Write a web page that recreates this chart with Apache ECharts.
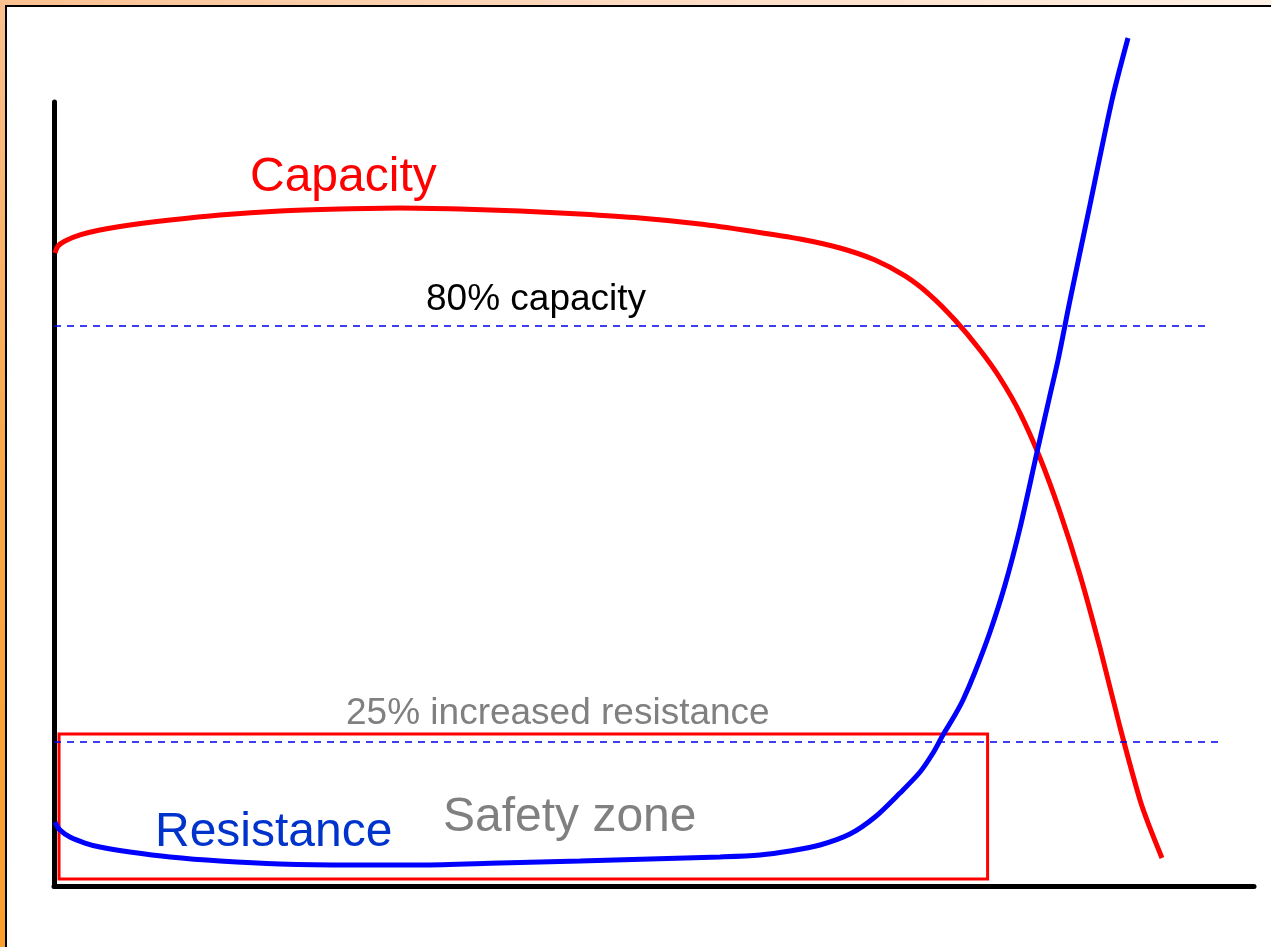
<!DOCTYPE html>
<html>
<head>
<meta charset="utf-8">
<script src="https://cdn.jsdelivr.net/npm/echarts@6/dist/echarts.min.js"></script>
<style>
html,body{margin:0;padding:0;background:#fff;}
#chart{width:1271px;height:947px;}
</style>
</head>
<body>
<div id="chart"></div>
<script>
// Capacity curve (x: relative cycle position 0-100, y: relative value 0-100)
const capacityX = [0.08, 0.33, 0.92, 2.17, 3.83, 6.33, 9.67, 13.83, 18.83, 23.83, 28.83, 33.83, 38.83, 43.83, 48.83, 53.83, 58.0, 62.17, 65.5, 68.42, 70.92, 73.0, 75.08, 77.17, 78.83, 80.5, 82.17, 83.83, 85.5, 87.17, 88.83, 90.5, 91.33, 92.33];
const capacityY = [80.74, 81.63, 82.27, 83.04, 83.67, 84.31, 84.95, 85.59, 86.10, 86.35, 86.48, 86.35, 86.10, 85.71, 85.20, 84.44, 83.55, 82.53, 81.38, 79.85, 77.81, 75.38, 72.19, 68.37, 64.80, 60.33, 54.59, 47.70, 39.67, 30.36, 20.28, 10.97, 7.40, 3.57];
// Resistance curve
const resistanceX = [0.08, 0.5, 1.33, 2.58, 3.83, 6.33, 9.67, 13.83, 18.83, 24.67, 30.5, 37.17, 43.83, 49.67, 55.5, 58.83, 61.33, 63.83, 66.33, 68.42, 70.5, 72.17, 73.25, 74.08, 75.08, 75.75, 76.75, 78.0, 79.25, 80.5, 81.92, 83.0, 83.67, 84.67, 86.33, 88.17, 89.5];
const resistanceY = [8.16, 7.14, 6.25, 5.48, 4.97, 4.34, 3.70, 3.19, 2.81, 2.68, 2.68, 2.93, 3.19, 3.44, 3.70, 3.95, 4.46, 5.23, 6.63, 8.80, 11.86, 14.54, 16.96, 19.26, 21.81, 23.72, 27.30, 32.40, 38.39, 45.66, 55.36, 62.63, 67.09, 74.74, 86.86, 100.26, 108.16];
// Reference lines: [level, end x]
const capacityLine = [71.4, 96.2];
const resistanceLine = [18.4, 97.4];
// Safety zone box: [x0, y0, x1, y1]
const safetyZone = [0.42, 0.9, 77.8, 19.4];
// Labels
const labels = ['Capacity', '80% capacity', '25% increased resistance', 'Safety zone', 'Resistance'];

const zip = (xs, ys) => xs.map((x, i) => [x, ys[i]]);

const chart = echarts.init(document.getElementById('chart'), null, {renderer: 'canvas'});
const FONT = "'Liberation Sans', Arial, sans-serif";
const hiddenAxis = {
  type: 'value', min: 0, max: 100,
  axisLine: {show: true, lineStyle: {color: '#000', width: 5}},
  axisTick: {show: false}, axisLabel: {show: false}, splitLine: {show: false}
};
chart.setOption({
  animation: false,
  grid: {left: 54, right: 17, top: 102, bottom: 61},
  xAxis: hiddenAxis,
  yAxis: hiddenAxis,
  graphic: [
    {type: 'rect', z: -200, silent: true, shape: {x: 0, y: 0, width: 1271, height: 947},
     style: {fill: new echarts.graphic.LinearGradient(0, 1, 1, 0, [
       {offset: 0, color: '#F99E2C'}, {offset: 0.19, color: '#F9A84A'},
       {offset: 0.36, color: '#FBC190'}, {offset: 0.66, color: '#FDD9BF'},
       {offset: 1, color: '#FEF1E5'}])}},
    {type: 'rect', z: -100, silent: true, shape: {x: 6, y: 6, width: 1400, height: 1100},
     style: {fill: '#fff', stroke: '#000', lineWidth: 2}},
    {type: 'text', x: 250, y: 178, style: {text: labels[0], font: '48px ' + FONT, fill: '#FF0000', textAlign: 'left', textVerticalAlign: 'middle'}},
    {type: 'text', x: 426, y: 300, style: {text: labels[1], font: '37px ' + FONT, fill: '#000000', textAlign: 'left', textVerticalAlign: 'middle'}},
    {type: 'text', x: 346, y: 714, style: {text: labels[2], font: '37px ' + FONT, fill: '#808080', textAlign: 'left', textVerticalAlign: 'middle'}},
    {type: 'text', x: 443, y: 818, style: {text: labels[3], font: '48px ' + FONT, fill: '#808080', textAlign: 'left', textVerticalAlign: 'middle'}},
    {type: 'text', x: 155, y: 833, style: {text: labels[4], font: '48px ' + FONT, fill: '#0033CC', textAlign: 'left', textVerticalAlign: 'middle'}}
  ],
  series: [
    {
      name: 'Capacity', type: 'line', data: zip(capacityX, capacityY),
      smooth: 0.3, showSymbol: false, clip: false,
      lineStyle: {color: '#FF0000', width: 5},
      markLine: {
        silent: true, symbol: 'none', label: {show: false},
        lineStyle: {color: '#0000EE', width: 1.5, type: [7, 6]},
        data: [
          [{coord: [0, capacityLine[0]]}, {coord: [capacityLine[1], capacityLine[0]]}],
          [{coord: [0, resistanceLine[0]]}, {coord: [resistanceLine[1], resistanceLine[0]]}]
        ]
      },
      markArea: {
        silent: true, label: {show: false},
        itemStyle: {color: 'rgba(0,0,0,0)', borderColor: '#FF0000', borderWidth: 3},
        data: [[{coord: [safetyZone[0], safetyZone[1]]}, {coord: [safetyZone[2], safetyZone[3]]}]]
      }
    },
    {
      name: 'Resistance', type: 'line', data: zip(resistanceX, resistanceY),
      smooth: 0.3, showSymbol: false, clip: false,
      lineStyle: {color: '#0000FF', width: 5}
    }
  ]
});
</script>
</body>
</html>
